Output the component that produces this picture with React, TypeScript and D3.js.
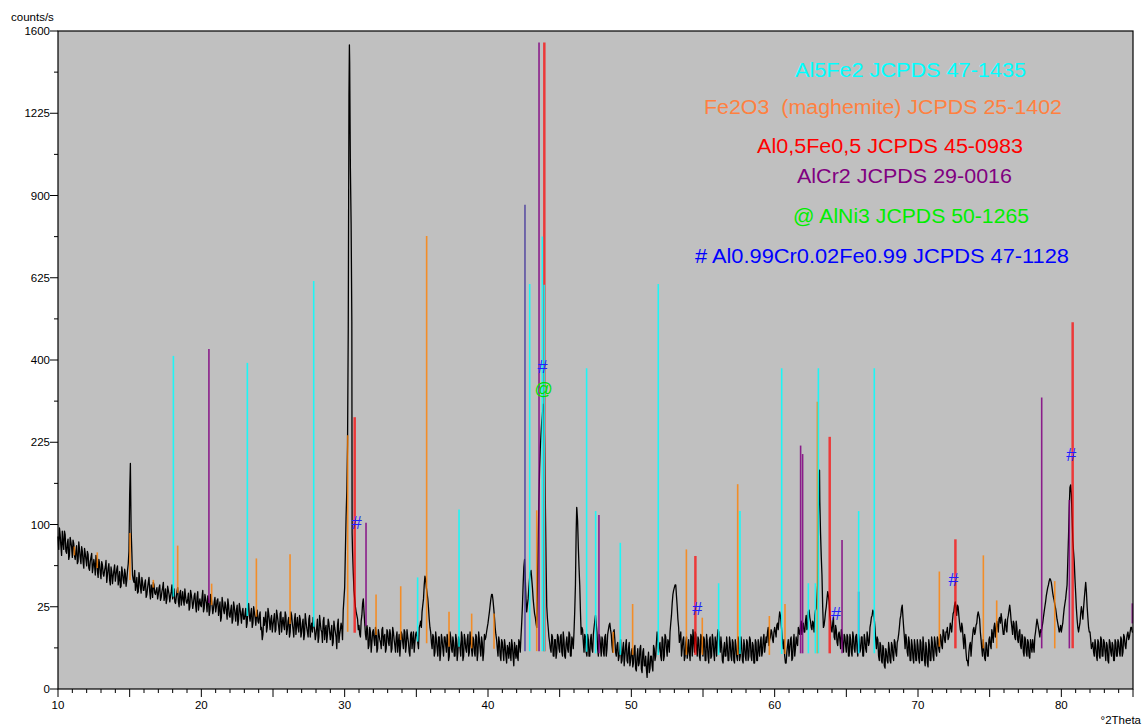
import React from 'react';
import * as d3 from 'd3';

// ---- Data ----
const GRID_START = 10;
const GRID_STEP = 0.1;
// measured intensity (counts/s) at 10.0, 10.1, ... 85.0 °2Theta
const traceCounts: number[] = [
  86,96,76,92,72,88,68,83,66,80,
  64,78,62,76,60,72,58,70,54,68,
  56,67,52,64,50,62,48,60,46,58,
  45,57,47,55,42,54,44,55,41,52,
  43,53,40,51,39,50,41,49,44,58,
  140,95,48,42,36,46,35,44,34,42,
  36,44,33,42,35,40,31,40,33,38,
  33,40,31,38,29,37,30,36,28,35,
  30,37,27,35,28,34,26,35,26,32,
  27,34,25,33,24,32,26,31,23,30,
  25,36,24,30,22,29,23,30,21,28,
  22,29,20,28,19,27,21,26,18,26,
  19,26,18,25,17,26,18,24,16,24,
  18,24,16,27,17,24,16,22,15,23,
  16,22,14,11,15,22,14,21,13,20,
  15,21,13,20,14,21,12,19,13,20,
  13,19,12,20,13,18,11,19,12,18,
  12,18,11,17,12,18,10,16,19,13,
  11,18,10,16,12,17,9,15,11,16,
  9,15,8,14,10,15,8,13,14,23,
  38,110,220,1300,1000,500,50,30,22,18,
  15,10,20,30,16,9,13,7,12,8,
  13,7,12,6,11,8,13,7,11,6,
  12,7,11,6,12,7,10,5,11,7,
  11,6,12,7,10,5,11,6,12,8,
  12,8,14,17,22,30,47,38,30,18,
  12,6,10,5,9,4,10,5,9,4,
  10,5,9,4,10,5,8,4,9,5,
  9,4,10,4,9,5,11,5,8,4,
  9,4,10,5,9,4,8,5,9,12,
  16,22,30,33,24,14,9,4,8,3,
  8,3,7,2.5,6,8,3,7,2,6,
  7,3,8,10,25,55,45,22,30,45,
  52,38,25,19,14,80,180,240,280,295,
  130,25,14,8,5,10,4,9,5,10,
  5,11,4,9,3.5,10,5,11,4,9,
  12,40,120,75,40,11,13,5,10,4,
  9,4,11,5,14,20,12,4,10,4,
  9,4,11,6,13,16,11,5,13,5,
  7,3,6,2.5,6,2,7,3,6,2,
  5,1.8,6,1.5,4,2,6,1.5,5,2,
  4,0.5,5,1.5,4,1.2,6,4,12,5,
  8,3,9,4,10,4,8,12,20,33,
  38,40,25,14,10,4,9,3,8,3.5,
  9,3,10,13,5,11,4,9,3,10,
  4,9,3,8,2.5,10,4,9,3,8,
  10,12,5,7,2.5,8,4,7,3,8,
  3,8,2.5,7,3,8,4,7,2.5,7,
  3,8,4,9,3,7,2.5,8,3,6,
  8,4,9,5,10,12,7,10,12,8,
  14,10,16,18,20,12,6,4,2.5,7,
  4,9,3,8,4,10,7,12,15,11,
  16,12,20,14,23,17,13,16,20,24,
  40,170,90,48,14,18,25,35,28,17,
  12,19,9,13,7,12,6,11,5,10,
  5,10,4,9,4,10,5,11,4,9,
  6,10,4,9,5,10,8,16,20,22,
  14,6,9,3,7,2.5,6,1.6,5,2.5,
  6,2.5,7,3,8,4,9,14,20,26,
  14,6,9,4,8,3,7,2.5,7,3,
  7,2.5,8,3,7,2,6,1.8,7,3,
  8,3,8,4,9,5,10,6,12,8,
  12,9,12,14,17,22,28,20,25,16,
  12,14,6,9,3,2,7,4,10,14,
  12,16,22,18,9,4,6,3,7,4,
  10,6,11,14,10,17,12,19,21,14,
  11,18,12,20,26,17,11,16,9,14,
  8,13,6,10,4,9,4,8,3.5,7,
  9,5,12,18,14,10,12,16,22,28,
  35,40,45,42,34,29,24,18,14,13,
  12,16,24,30,40,85,150,140,82,60,
  34,18,12,16,25,18,30,42,25,14,
  12,6,8,4,7,3,8,3.5,9,4,
  8,3,7,2.5,8,4,7,3,8,4,
  8,4,9,5,10,6,11,9,12,14,
  12,
];
// measured intensity at the half steps 10.05, 10.15, ... 84.95 °2Theta
const traceCountsMid: number[] = [
  72,88,66,80,92,70,78,62,85,74,
  82,66,70,58,80,64,75,60,73,62,
  70,54,60,68,55,57,66,51,62,50,
  60,49,52,61,48,58,40,51,47,57,
  48,56,45,38,55,44,53,39,52,70,
  188,70,44,52,40,34,50,38,46,36,
  41,31,38,46,30,37,42,34,36,30,
  38,29,35,42,32,27,39,33,32,40,
  33,28,31,38,25,36,30,29,37,28,
  30,23,36,29,27,34,22,35,27,26,
  31,22,33,27,32,20,33,26,24,31,
  25,30,24,17,31,23,28,22,30,20,
  23,16,28,21,23,15,27,20,22,18,
  21,14,26,20,21,14,25,19,20,17,
  20,13,9,19,18,12,24,17,18,12,
  18,12,23,17,11,22,16,15,22,11,
  17,10,22,16,10,21,15,14,20,10,
  16,9,21,14,10,20,14,12,15,9,
  14,8,20,13,8,19,13,8,18,12,
  12,7,17,12,6,18,11,16,9,30,
  70,145,480,1450,800,70,36,25,20,13,
  11,17,27,22,11,15,6,14,5,12,
  9,14,5,13,9,6,14,10,5,13,
  8,13,5,14,9,5,12,8,4,12,
  8,13,5,13,8,4,12,9,5,11,
  10,6,15,14,26,40,44,34,24,14,
  8,11,4,12,6,10,3,11,6,10,
  7,11,3,12,6,10,4,11,3,10,
  6,12,3,11,6,9,4,12,6,10,
  5,11,3,12,6,10,3,11,10,14,
  19,26,33,29,19,11,6,10,4,9,
  5,9,4,7,3.5,5,9,4,8,3.5,
  4,9,5,16,40,62,30,26,38,50,
  45,30,21,16,40,130,215,265,300,220,
  60,18,10,6,11,4,9,3.5,11,6,
  10,5,12,4,8,6,12,4,10,6,
  22,90,105,55,22,14,8,11,5,11,
  4,9,6,11,17,16,6,11,7,10,
  5,10,4,11,15,13,7,12,9,4,
  8,4,9,3,8,4,9,2.5,8,3,
  6,2.5,7,1.2,6,2.5,7,1,6,2,
  1.5,3,1,4,2,7,3,8,9,7,
  4,10,3,11,6,9,5,16,27,36,
  40,32,18,8,12,6,10,4,10,5,
  5,11,4,9,12,6,10,4,11,5,
  10,3,11,4,9,3.5,11,5,10,4,
  13,8,10,3,6,4,10,3,10,4,
  9,3,9,4,10,3,10,3,9,4,
  9,3,10,4,8,2.5,9,3,9,4,
  10,5,11,7,8,14,9,13,9,12,
  12,15,13,22,16,8,9,2.5,5,9,
  6,10,3.5,11,6,8,14,11,17,14,
  12,17,13,22,19,14,17,12,23,32,
  110,130,65,25,15,22,30,32,20,13,
  16,10,15,8,11,9,13,7,11,7,
  11,4,11,5,12,6,10,6,11,5,
  10,4,11,6,12,7,14,19,23,18,
  9,10,4,8,3,7,2,6,3,8,
  3,8,4,9,5,8,11,18,24,19,
  10,11,5,10,3,9,3.5,9,3,9,
  3.5,9,3,10,3,8,2.5,9,3,10,
  4,10,5,10,6,11,7,13,9,12,
  14,10,16,12,21,26,24,26,20,13,
  16,9,11,5,3,5,8,7,13,11,
  15,20,20,12,6,9,3.5,8,4,9,
  7,13,8,16,13,15,18,16,18,11,
  16,13,18,23,22,14,17,10,17,9,
  12,7,11,5,10,5,9,4,9,5,
  7,10,15,16,12,13,14,19,25,32,
  38,43,44,38,31,26,21,16,12,15,
  14,20,27,35,60,120,154,110,70,45,
  24,14,14,21,22,24,36,35,19,12,
  9,7,5,9,4,9,4,10,4,9,
  5,8,3,9,5,8,3,9,4,9,
  5,10,4,11,7,9,12,10,14,12,
];
// extra points at sharp peak maxima [°2Theta, counts/s]
const peakApexes: [number, number][] = [
  [30.33, 1533], [30.52, 90], [46.19, 122], [63.13, 177],
];

// reference patterns: [°2Theta, top counts, base counts]
const al5fe2Sticks: [number, number, number][] = [
  [18.05, 410, 31.5], [23.21, 393, 19.7], [27.84, 615, 14.3], [35.09, 46, 8.3],
  [37.98, 119, 6.6], [42.91, 606, 5.3], [43.79, 757, 5.3], [43.93, 604, 5.3],
  [46.88, 380, 5.1], [47.51, 117, 4.7], [49.23, 79, 4.3], [51.88, 606, 4.3],
  [56.09, 41.3, 4.3], [57.58, 117, 4.5], [60.49, 380, 4.5], [62.35, 41.3, 4.7],
  [62.84, 41.3, 4.7], [63.05, 380, 4.7], [65.86, 117, 4.7], [66.95, 380, 4.7],
];
const fe2o3Sticks: [number, number, number][] = [
  [11.14, 75, 66], [12.74, 69, 54], [15.02, 90, 44], [16.65, 44, 38],
  [18.35, 76, 34], [20.72, 41, 26], [23.84, 63, 19.3], [26.19, 67, 15.6],
  [30.21, 238, 12.1], [32.19, 33, 10.8], [33.91, 39, 8.9], [35.72, 758, 7.7],
  [37.28, 22, 6.6], [38.86, 21, 6.1], [40.42, 21, 6], [43.4, 118, 5.3],
  [48.74, 12.1, 4.8], [50.09, 26.7, 4.3], [53.84, 72, 4.3], [54.95, 18.8, 4.3],
  [57.42, 155, 4.3], [59.63, 19.7, 4.3], [60.72, 26.7, 4.5], [62.98, 305, 4.7],
  [71.49, 51, 6.6], [74.56, 66, 6.1], [75.49, 29, 6.1], [79.54, 43, 6.1],
];
const al05fe05Sticks: [number, number, number][] = [
  [30.7, 273, 11.7], [43.93, 1544, 5.3], [54.47, 65.4, 4.3],
  [63.84, 235, 4.7], [72.61, 82.8, 6.1], [80.79, 497, 6.1],
];
const alcr2Sticks: [number, number, number][] = [
  [20.53, 427, 27.3], [31.49, 102, 14.7], [43.56, 1544, 5.3], [47.74, 112, 4.7],
  [61.81, 219, 4.7], [61.95, 204, 4.7], [64.7, 82, 4.7], [78.63, 314, 6.1],
  [80.56, 132, 6.1], [84.95, 27.1, 15.9],
];
const otherSticks: [number, number, number][] = [
  [42.58, 867, 5.3], [65.86, 35, 4.7],
];

// phase markers [°2Theta, counts, symbol]
const markers: [number, number, string][] = [
  [30.84, 102, '#'], [43.81, 384, '#'], [43.88, 332, '@'], [54.6, 23.5, '#'],
  [64.28, 20.8, '#'], [72.47, 43.9, '#'], [80.7, 202, '#'],
];

const legendLabels = [
  'Al5Fe2 JCPDS 47-1435',
  'Fe2O3  (maghemite) JCPDS 25-1402',
  'Al0,5Fe0,5 JCPDS 45-0983',
  'AlCr2 JCPDS 29-0016',
  '@ AlNi3 JCPDS 50-1265',
  '# Al0.99Cr0.02Fe0.99 JCPDS 47-1128',
];

const yTickLabels = [0, 25, 100, 225, 400, 625, 900, 1225, 1600];
const yMinorTicks = [6.25, 56.25, 156.25, 306.25, 506.25, 756.25, 1056.25, 1406.25];
const xTickLabels = [10, 20, 30, 40, 50, 60, 70, 80];

// ---- Layout / style ----
const FONT = '"Liberation Sans", Arial, Helvetica, sans-serif';
const legendLayout = [
  { x: 795, y: 77, w: 231, color: '#00FFFF' },
  { x: 704, y: 114, w: 358, color: '#FF8040' },
  { x: 757, y: 153, w: 266, color: '#FF0000' },
  { x: 797, y: 183, w: 215, color: '#800080' },
  { x: 793, y: 223, w: 236, color: '#00EE00' },
  { x: 695, y: 263, w: 374, color: '#0000FF' },
];

export default function App() {
  const L = 58, R = 1133, T = 31, B = 689;
  const x = d3.scaleLinear().domain([10, 85]).range([L, R]);
  const y = d3.scaleSqrt().domain([0, 1600]).range([B, T]);

  const pts: [number, number][] = traceCounts
    .map((v, i) => [GRID_START + i * GRID_STEP, v] as [number, number])
    .concat(traceCountsMid.map((v, i) => [GRID_START + GRID_STEP / 2 + i * GRID_STEP, v] as [number, number]))
    .concat(peakApexes)
    .sort((a, b) => a[0] - b[0]);
  const line = d3.line<[number, number]>().x(d => x(d[0])).y(d => y(d[1]));

  const xMinor = d3.range(10, 86, 1);

  const stickGroup = (data: [number, number, number][], color: string, width: number, op: number) =>
    data.map((s, i) => (
      <line key={i} x1={x(s[0])} x2={x(s[0])} y1={y(s[2])} y2={y(s[1])}
        stroke={color} strokeWidth={width} strokeOpacity={op} />
    ));

  return (
    <svg width={1142} height={728} style={{ position: 'absolute', left: 0, top: 0, background: '#fff' }}
      fontFamily={FONT}>
      <rect x={L} y={T} width={R - L} height={B - T} fill="#C0C0C0" />
      <path d={line(pts) || ''} fill="none" stroke="#000" strokeWidth={1.3} strokeLinejoin="round" />
      <g>{stickGroup(al05fe05Sticks, '#FF0000', 2.5, 0.7)}</g>
      <g>{stickGroup(alcr2Sticks, '#800080', 1.6, 0.85)}</g>
      <g>{stickGroup(otherSticks, '#4A3C9C', 1.6, 0.85)}</g>
      <g>{stickGroup(fe2o3Sticks, '#FF8000', 1.6, 0.8)}</g>
      <g>{stickGroup(al5fe2Sticks, '#00FFFF', 1.6, 0.85)}</g>
      {markers.map((m, i) => (
        <text key={i} x={x(m[0])} y={y(m[1])} textAnchor="middle" dominantBaseline="central"
          fontSize={18} fill={m[2] === '@' ? '#00E000' : '#2020FF'}>{m[2]}</text>
      ))}
      <rect x={L} y={T} width={R - L} height={B - T} fill="none" stroke="#000" strokeWidth={1.2} />
      {/* y axis */}
      {yTickLabels.map(v => (
        <g key={v}>
          <line x1={L - 8} x2={L} y1={y(v)} y2={y(v)} stroke="#000" strokeWidth={1} />
          <text x={L - 8} y={y(v)} textAnchor="end" dominantBaseline="central" fontSize={11.5} fill="#000">{v}</text>
        </g>
      ))}
      {yMinorTicks.map(v => (
        <line key={v} x1={L - 4} x2={L} y1={y(v)} y2={y(v)} stroke="#000" strokeWidth={1} />
      ))}
      {/* x axis */}
      {xMinor.map(v => (
        <line key={v} x1={x(v)} x2={x(v)} y1={B} y2={B + (v % 5 === 0 ? 8 : 4)} stroke="#000" strokeWidth={1} />
      ))}
      {xTickLabels.map(v => (
        <text key={v} x={x(v)} y={709} textAnchor="middle" fontSize={11.5} fill="#000">{v}</text>
      ))}
      <text x={11} y={20.5} fontSize={11.5} fill="#000">counts/s</text>
      <text x={1141} y={723.5} textAnchor="end" fontSize={11.5} fill="#000">°2Theta</text>
      {legendLabels.map((t, i) => (
        <text key={i} x={legendLayout[i].x} y={legendLayout[i].y} fontSize={19.5}
          fill={legendLayout[i].color} textLength={legendLayout[i].w} lengthAdjust="spacingAndGlyphs"
          style={{ whiteSpace: 'pre' }}>{t}</text>
      ))}
    </svg>
  );
}
